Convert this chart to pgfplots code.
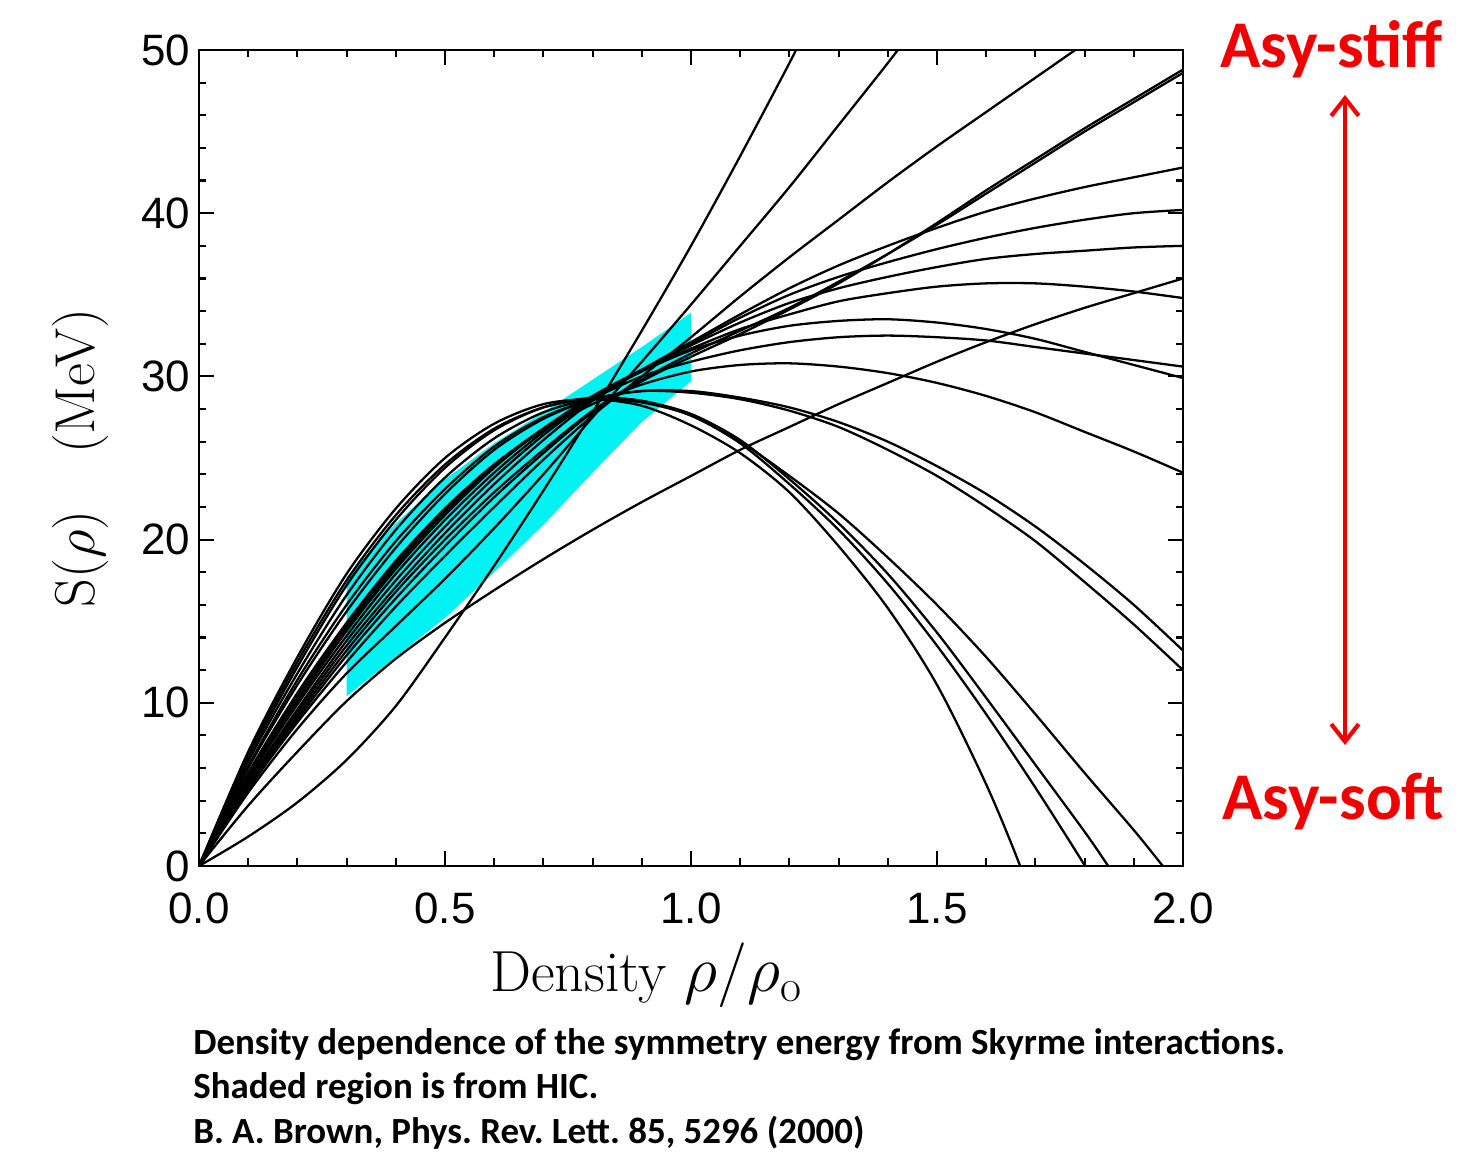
\RequirePackage{fix-cm}
\documentclass[border=0pt]{standalone}
\usepackage{fontspec}
\usepackage{pgfplots}
\pgfplotsset{compat=1.18}
\usetikzlibrary{arrows.meta}
\newfontfamily\calibri{Carlito}
\newfontfamily\ticksans{Liberation Sans}
\definecolor{hiccyan}{RGB}{0,242,242}
\definecolor{asyred}{RGB}{240,0,0}

\pgfplotsset{skyrme/.style={black, line width=1.3pt, smooth}}

\begin{document}
\frenchspacing
\begin{tikzpicture}
\path[use as bounding box] (0,0) rectangle (29.64,23.06);
\begin{axis}[
  at={(3.98cm,5.74cm)}, anchor=south west,
  scale only axis, width=19.68cm, height=16.32cm,
  xmin=0, xmax=2, ymin=0, ymax=50,
  xtick={0,0.5,1,1.5,2}, xticklabels={0.0,0.5,1.0,1.5,2.0},
  ytick={0,10,20,30,40,50},
  minor x tick num=4, minor y tick num=4,
  tick align=inside,
  major tick length=0.3cm, minor tick length=0.15cm,
  tick style={black, line width=1.2pt},
  axis line style={line width=1.5pt},
  /pgf/number format/assume math mode=true,
  ticklabel style={font=\ticksans\fontsize{25}{29}\selectfont},
  xticklabel style={yshift=-0.42cm},
  yticklabel style={xshift=-0.05cm},
]
% shaded HIC region
\addplot[fill=hiccyan, draw=none] coordinates {
  (0.3,10.4) (0.4,12.8) (0.5,15.2) (0.6,18.0) (0.7,20.9) (0.8,24.1) (0.9,27.2) (1.0,29.7)
  (1.0,33.9) (0.9,31.8) (0.8,29.8) (0.7,27.8) (0.6,25.9) (0.5,23.7) (0.4,21.0) (0.3,17.7)} -- cycle;

% steepest
\addplot[skyrme] coordinates {(0,0) (0.1,1.8) (0.2,3.9) (0.3,6.5) (0.4,9.8) (0.5,14.0) (0.6,18.4) (0.7,23.0) (0.8,27.8) (0.9,32.8) (1.0,38.0) (1.1,43.5) (1.2,49.2) (1.25,52.2)};
% low, ends at 36
\addplot[skyrme] coordinates {(0,0) (0.1,3.7) (0.2,7.0) (0.3,10.1) (0.4,12.7) (0.5,14.9) (0.6,16.9) (0.7,18.8) (0.8,20.6) (0.9,22.3) (1.0,23.9) (1.1,25.5) (1.2,26.9) (1.3,28.3) (1.4,29.6) (1.5,30.9) (1.6,32.1) (1.7,33.2) (1.8,34.2) (1.9,35.1) (2.0,36.0)};
% soft ones crossing zero
\addplot[skyrme] coordinates {(0,0) (0.1,7.0) (0.2,12.8) (0.3,17.9) (0.4,21.9) (0.5,25.0) (0.6,27.1) (0.7,28.3) (0.8,28.6) (0.9,28.2) (1.0,27.0) (1.1,25.3) (1.2,22.9) (1.3,19.6) (1.4,15.8) (1.5,11.1) (1.6,5.0) (1.669,0) (1.7,-2.9)};
\addplot[skyrme] coordinates {(0,0) (0.1,6.8) (0.2,12.5) (0.3,17.5) (0.4,21.5) (0.5,24.6) (0.6,26.8) (0.7,28.1) (0.8,28.6) (0.9,28.4) (1.0,27.6) (1.1,25.9) (1.2,23.4) (1.3,20.6) (1.4,17.3) (1.5,13.5) (1.6,9.3) (1.7,4.8) (1.801,0) (1.85,-2.5)};
\addplot[skyrme] coordinates {(0,0) (0.1,6.6) (0.2,12.2) (0.3,17.2) (0.4,21.2) (0.5,24.4) (0.6,26.7) (0.7,28.1) (0.8,28.7) (0.9,28.5) (1.0,27.7) (1.1,26.1) (1.2,23.7) (1.3,21.0) (1.4,17.9) (1.5,14.3) (1.6,10.3) (1.7,6.2) (1.8,2.1) (1.848,0) (1.9,-2.3)};
\addplot[skyrme] coordinates {(0,0) (0.1,6.4) (0.2,11.8) (0.3,16.6) (0.4,20.6) (0.5,23.8) (0.6,26.2) (0.7,27.8) (0.8,28.6) (0.9,28.5) (1.0,27.6) (1.1,26.0) (1.2,23.9) (1.3,21.6) (1.4,18.9) (1.5,16.0) (1.6,12.8) (1.7,9.3) (1.8,5.7) (1.9,2.2) (1.959,0) (2.0,-1.5)};
% soft pair ending near 13 and 12
\addplot[skyrme] coordinates {(0,0) (0.1,6.1) (0.2,11.4) (0.3,16.0) (0.4,19.9) (0.5,23.1) (0.6,25.7) (0.7,27.5) (0.8,28.6) (0.9,29.1) (1.0,29.1) (1.1,28.7) (1.2,28.1) (1.3,27.2) (1.4,26.0) (1.5,24.5) (1.6,22.8) (1.7,20.8) (1.8,18.5) (1.9,16.0) (2.0,13.2)};
\addplot[skyrme] coordinates {(0,0) (0.1,6.0) (0.2,11.1) (0.3,15.6) (0.4,19.5) (0.5,22.8) (0.6,25.5) (0.7,27.4) (0.8,28.6) (0.9,29.1) (1.0,29.0) (1.1,28.6) (1.2,27.9) (1.3,26.9) (1.4,25.5) (1.5,23.9) (1.6,22.0) (1.7,19.9) (1.8,17.4) (1.9,14.8) (2.0,12.0)};
% peaked, ending near 24
\addplot[skyrme] coordinates {(0,0) (0.1,5.7) (0.2,10.6) (0.3,14.9) (0.4,18.7) (0.5,21.9) (0.6,24.6) (0.7,26.7) (0.8,28.3) (0.9,29.5) (1.0,30.3) (1.1,30.7) (1.2,30.8) (1.3,30.6) (1.4,30.2) (1.5,29.6) (1.6,28.8) (1.7,27.8) (1.8,26.6) (1.9,25.4) (2.0,24.1)};
% peaked, ending near 30
\addplot[skyrme] coordinates {(0,0) (0.1,5.6) (0.2,10.5) (0.3,14.8) (0.4,18.6) (0.5,21.9) (0.6,24.6) (0.7,26.8) (0.8,28.6) (0.9,30.0) (1.0,30.9) (1.1,31.6) (1.2,32.1) (1.3,32.4) (1.4,32.5) (1.5,32.4) (1.6,32.2) (1.7,31.8) (1.8,31.4) (1.9,31.0) (2.0,30.6)};
\addplot[skyrme] coordinates {(0,0) (0.1,5.5) (0.2,10.3) (0.3,14.6) (0.4,18.4) (0.5,21.7) (0.6,24.5) (0.7,26.8) (0.8,28.7) (0.9,30.3) (1.0,31.6) (1.1,32.5) (1.2,33.1) (1.3,33.4) (1.4,33.5) (1.5,33.3) (1.6,32.9) (1.7,32.3) (1.8,31.5) (1.9,30.7) (2.0,29.9)};
% flat, ending near 35
\addplot[skyrme] coordinates {(0,0) (0.1,5.4) (0.2,10.1) (0.3,14.4) (0.4,18.2) (0.5,21.5) (0.6,24.4) (0.7,26.8) (0.8,28.8) (0.9,30.4) (1.0,31.7) (1.1,32.9) (1.2,33.8) (1.3,34.6) (1.4,35.1) (1.5,35.5) (1.6,35.7) (1.7,35.7) (1.8,35.5) (1.9,35.2) (2.0,34.8)};
% rising, ending at 38, 40, 43
\addplot[skyrme] coordinates {(0,0) (0.1,5.3) (0.2,9.9) (0.3,14.1) (0.4,17.9) (0.5,21.2) (0.6,24.1) (0.7,26.6) (0.8,28.7) (0.9,30.4) (1.0,31.9) (1.1,33.3) (1.2,34.5) (1.3,35.4) (1.4,36.1) (1.5,36.7) (1.6,37.2) (1.7,37.5) (1.8,37.7) (1.9,37.9) (2.0,38.0)};
\addplot[skyrme] coordinates {(0,0) (0.1,5.1) (0.2,9.6) (0.3,13.8) (0.4,17.5) (0.5,20.8) (0.6,23.8) (0.7,26.4) (0.8,28.6) (0.9,30.4) (1.0,32.0) (1.1,33.6) (1.2,35.0) (1.3,36.1) (1.4,37.0) (1.5,37.8) (1.6,38.5) (1.7,39.1) (1.8,39.6) (1.9,40.0) (2.0,40.2)};
\addplot[skyrme] coordinates {(0,0) (0.1,5.0) (0.2,9.4) (0.3,13.5) (0.4,17.1) (0.5,20.4) (0.6,23.4) (0.7,26.1) (0.8,28.5) (0.9,30.4) (1.0,32.1) (1.1,33.8) (1.2,35.4) (1.3,36.8) (1.4,38.0) (1.5,39.1) (1.6,40.1) (1.7,40.9) (1.8,41.6) (1.9,42.2) (2.0,42.8)};
% stiff pair ending near 49
\addplot[skyrme] coordinates {(0,0) (0.1,4.9) (0.2,9.2) (0.3,13.2) (0.4,16.8) (0.5,20.0) (0.6,22.9) (0.7,25.5) (0.8,27.9) (0.9,29.8) (1.0,31.4) (1.1,32.8) (1.2,34.2) (1.3,35.8) (1.4,37.5) (1.5,39.3) (1.6,41.2) (1.7,43.1) (1.8,45.0) (1.9,46.8) (2.0,48.6)};
\addplot[skyrme] coordinates {(0,0) (0.1,4.8) (0.2,9.0) (0.3,12.9) (0.4,16.4) (0.5,19.6) (0.6,22.6) (0.7,25.3) (0.8,27.8) (0.9,29.7) (1.0,31.2) (1.1,32.6) (1.2,34.1) (1.3,35.7) (1.4,37.5) (1.5,39.4) (1.6,41.4) (1.7,43.3) (1.8,45.2) (1.9,47.0) (2.0,48.8)};
% stiff ones leaving the top
\addplot[skyrme] coordinates {(0,0) (0.1,4.7) (0.2,8.8) (0.3,12.5) (0.4,15.9) (0.5,19.0) (0.6,22.0) (0.7,24.9) (0.8,27.6) (0.9,30.0) (1.0,32.4) (1.1,34.9) (1.2,37.3) (1.3,39.6) (1.4,41.9) (1.5,44.1) (1.6,46.2) (1.7,48.3) (1.8,50.4)};
\addplot[skyrme] coordinates {(0,0) (0.1,4.5) (0.2,8.4) (0.3,11.8) (0.4,14.7) (0.5,17.6) (0.6,20.7) (0.7,24.0) (0.8,27.5) (0.9,30.9) (1.0,34.4) (1.1,38.0) (1.2,41.6) (1.3,45.4) (1.4,49.2) (1.45,51.2)};
\end{axis}

% axis labels
\node[rotate=90, font=\fontsize{32}{38}\selectfont] at (1.6,13.9) {S($\rho$)\quad(MeV)};
\node[anchor=base west, inner sep=0, font=\fontsize{33}{38}\selectfont] at (9.8,3.22) {Density {\fontsize{37}{42}\selectfont$\rho/\rho_{\mathrm{o}}$}};

% asy-stiff / asy-soft
\draw[asyred, line width=2.4pt, {Straight Barb[length=0.35cm,width=0.55cm]}-{Straight Barb[length=0.35cm,width=0.55cm]}] (26.9,21.16) -- (26.9,8.16);
\node[anchor=base west, inner sep=0, text=asyred, font=\calibri\bfseries\fontsize{38}{44}\selectfont] at (24.4,21.7) {Asy-stiff};
\node[anchor=base west, inner sep=0, text=asyred, font=\calibri\bfseries\fontsize{38}{44}\selectfont] at (24.44,6.66) {Asy-soft};

% caption
\begin{scope}[every node/.style={anchor=base west, inner sep=0, font=\calibri\bfseries\fontsize{21}{25}\selectfont}]
\node at (3.86,1.96) {Density dependence of the symmetry energy from Skyrme interactions.};
\node at (3.86,1.08) {Shaded region is from HIC.};
\node at (3.86,0.20) {B. A. Brown, Phys. Rev. Lett. 85, 5296 (2000)};
\end{scope}
\end{tikzpicture}
\end{document}
